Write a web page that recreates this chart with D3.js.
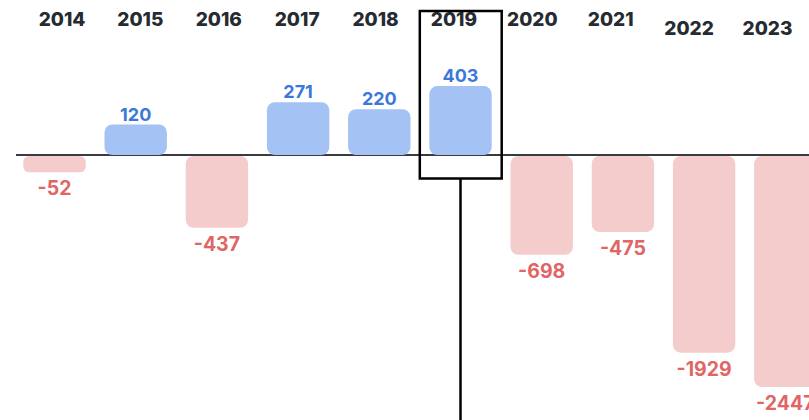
<!DOCTYPE html>
<html>
<head>
<meta charset="utf-8">
<script src="https://cdn.jsdelivr.net/npm/d3@7"></script>
<style>
  html, body { margin: 0; padding: 0; background: #fff; }
  svg { display: block; }
</style>
</head>
<body>
<div id="chart"></div>
<script>
const w = 809;
const h = 420;

const years = [2014, 2015, 2016, 2017, 2018, 2019, 2020, 2021, 2022, 2023];
const values = [-52, 120, -437, 271, 220, 403, -698, -475, -1929, -2447];
const lowYears = [2022, 2023];   // year labels sit a bit lower on these
const highlightYear = 2019;

const baseY = 155;

const svg = d3.select("#chart")
    .append("svg")
    .attr("width", w)
    .attr("height", h);

const x = d3.scaleBand()
    .domain(years)
    .range([4.5, 835.3])
    .padding(0.2315);

// year headings are spaced a little tighter than the bars
const xLabel = d3.scalePoint()
    .domain(years)
    .range([62, 767.5]);

// bar lengths are compressed, roughly a power of the value
const y = d3.scalePow()
    .exponent(0.673)
    .domain([-2447, 0])
    .range([387, baseY]);

const data = years.map(function (yr, i) {
    return { year: yr, value: values[i] };
});

// zero line
svg.append("line")
    .attr("x1", 16)
    .attr("x2", w)
    .attr("y1", baseY)
    .attr("y2", baseY)
    .attr("stroke", "#383b42")
    .attr("stroke-width", 2);

svg.selectAll("rect.bar")
    .data(data)
    .enter()
    .append("rect")
    .attr("class", "bar")
    .attr("x", d => x(d.year))
    .attr("width", x.bandwidth())
    .attr("y", d => d.value >= 0 ? y(d.value) : baseY + 1)
    .attr("height", d => d.value >= 0 ? baseY - y(d.value) : y(d.value) - baseY - 1)
    .attr("rx", function (d) {
        const len = Math.abs(y(d.value) - baseY);
        return Math.min(8, len / 3);
    })
    .attr("fill", d => d.value >= 0 ? "#a4c2f4" : "#f4cccc");

svg.selectAll("text.val")
    .data(data)
    .enter()
    .append("text")
    .attr("class", "val")
    .text(d => d.value)
    .attr("x", d => x(d.year) + x.bandwidth() / 2)
    .attr("y", d => d.value >= 0 ? y(d.value) - 4 : y(d.value) + 23)
    .attr("text-anchor", "middle")
    .attr("font-family", "Inter, sans-serif")
    .attr("font-weight", 700)
    .attr("font-size", d => d.value >= 0 ? "18px" : "19.5px")
    .attr("fill", d => d.value >= 0 ? "#3c78d8" : "#e06666");

svg.selectAll("text.year")
    .data(years)
    .enter()
    .append("text")
    .attr("class", "year")
    .text(d => d)
    .attr("x", d => xLabel(d))
    .attr("y", d => lowYears.includes(d) ? 34.5 : 25.5)
    .attr("text-anchor", "middle")
    .attr("font-family", "Inter, sans-serif")
    .attr("font-weight", 800)
    .attr("font-size", "19px")
    .attr("fill", "#262a31");

// highlight box around one year, with a pointer line going down
const hx = x(highlightYear);
svg.append("rect")
    .attr("x", hx - 9.5)
    .attr("y", 11)
    .attr("width", x.bandwidth() + 19.5)
    .attr("height", 167.5)
    .attr("fill", "none")
    .attr("stroke", "#000")
    .attr("stroke-width", 2.5);

svg.append("line")
    .attr("x1", hx + x.bandwidth() / 2)
    .attr("x2", hx + x.bandwidth() / 2)
    .attr("y1", 178.5)
    .attr("y2", h)
    .attr("stroke", "#000")
    .attr("stroke-width", 2.5);
</script>
</body>
</html>
